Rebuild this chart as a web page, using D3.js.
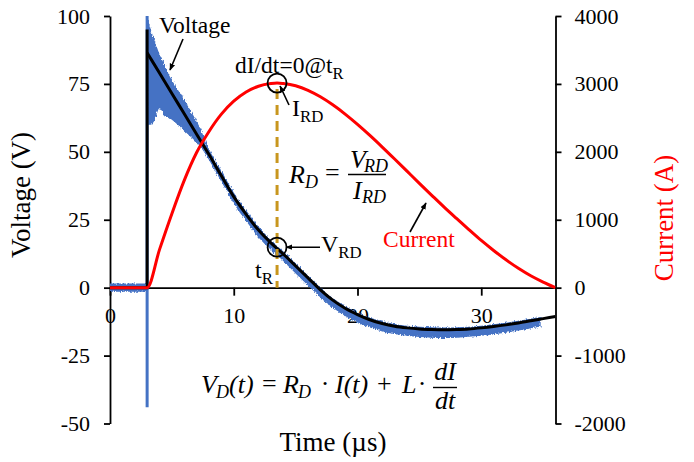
<!DOCTYPE html>
<html>
<head>
<meta charset="utf-8">
<script src="https://cdn.jsdelivr.net/npm/d3@7/dist/d3.min.js"></script>
<style>
  html, body { margin: 0; padding: 0; background: #fff; }
  svg { display: block; }
  text { font-family: "Liberation Serif", "Times New Roman", serif; fill: #000; }
  .math { font-style: italic; }
</style>
</head>
<body>
<svg id="chart" width="694" height="462"></svg>
<script>
// ---- Measured current (A) vs time (µs)
const currentTime = [0, 3, 4, 5, 6, 7, 8, 9, 10, 11, 12, 13, 13.5, 14, 15, 16, 17, 18, 19, 20,
  21, 22, 23, 24, 25, 26, 27, 28, 29, 30, 31, 32, 33, 34, 35, 36];
const currentAmps = [0, 0, 560, 1090, 1580, 1990, 2300, 2555, 2745, 2880, 2966, 3005, 3013, 3005, 2972, 2906, 2810, 2692, 2556, 2404,
  2241, 2070, 1894, 1715, 1536, 1360, 1186, 1019, 855, 695, 548, 410, 285, 175, 82, 0];

// ---- Fitted diode voltage (V): rising edge at 3 µs, then the decay curve
const edgeTime = [0, 3, 3, 3];
const edgeVoltage = [0, 0, 95, 86.5];
const fitTime = [3, 4, 5, 6, 7, 8, 9, 10, 11, 12, 13, 14, 15, 16, 17, 18, 19, 20,
  21, 22, 23, 24, 25, 26, 27, 28, 29, 30, 31, 32, 33, 34, 35, 36];
const fitVoltage = [86.5, 79, 71.5, 64, 56.5, 49, 41.2, 33.5, 27, 21.2, 16.5, 12.4, 8, 3.6, -0.8, -4.6, -7.6, -9.9,
  -11.8, -13.2, -14.2, -14.8, -15.2, -15.4, -15.5, -15.4, -15.2, -14.8, -14.3, -13.7, -13.0, -12.2, -11.4, -10.6];

// ---- Measured voltage trace: upper / lower envelope of the noisy signal
const baseNoiseTime = [0, 2.95];
const baseNoiseUpper = [1.5, 1.5];
const baseNoiseLower = [-1.5, -1.5];
const spikeTime = 3.0;
const spikeHigh = 104;
const spikeLow = -44;
const traceTime = [3.0, 3.3, 3.6, 4.0, 4.4, 4.8, 5.6, 6.4, 7.2, 8, 9, 10, 11, 12, 13, 14, 15, 16, 17, 18, 19, 20,
  21, 22, 23, 24, 25, 26, 27, 28, 29, 30, 31, 32, 33, 34, 34.8];
const traceUpper = [100, 95, 91, 86, 82, 78, 72, 66, 59.5, 51, 43, 35, 28.5, 22.5, 17.5, 13.4, 9, 4.5, 0, -3.8, -6.8, -9.1,
  -11, -12.4, -13.4, -14, -14.4, -14.6, -14.7, -14.6, -14.4, -14, -13.5, -12.9, -12.2, -11.4, -10.8];
const traceLower = [60, 60, 61.5, 66, 63.5, 62.5, 59.5, 56, 52.5, 47, 39, 31, 24.5, 18.5, 14, 9.8, 5.2, 0.8, -3.6, -7.4, -10.4, -12.8,
  -14.7, -16.1, -17.1, -17.7, -18.2, -18.4, -18.5, -18.4, -18.1, -17.7, -17.2, -16.6, -15.8, -15, -14.3];

// ---- Operating point where dI/dt = 0
const tR = 13.5;
const iRD = 3013;
const vRD = 14.9;

// ---- Axis ticks
const timeTicks = [0, 10, 20, 30];
const voltageTicks = [-50, -25, 0, 25, 50, 75, 100];
const currentTicks = [-2000, -1000, 0, 1000, 2000, 3000, 4000];

const svg = d3.select("#chart");
const plot = { left: 110, right: 555.5, top: 16, bottom: 423.5 };

const x = d3.scaleLinear().domain([0, 36]).range([plot.left, plot.right]);
const yV = d3.scaleLinear().domain([-50, 100]).range([plot.bottom, plot.top]);
const yI = d3.scaleLinear().domain([-2000, 4000]).range([plot.bottom, plot.top]);

const defs = svg.append("defs");
defs.append("clipPath").attr("id", "plotClip").append("rect")
  .attr("x", plot.left).attr("y", plot.top)
  .attr("width", plot.right - plot.left).attr("height", plot.bottom - plot.top);
// rough edge for the noisy trace
const rough = defs.append("filter").attr("id", "rough")
  .attr("x", "-5%").attr("y", "-5%").attr("width", "110%").attr("height", "110%");
rough.append("feTurbulence").attr("type", "fractalNoise").attr("baseFrequency", "0.9 0.35")
  .attr("numOctaves", 2).attr("seed", 3).attr("result", "n");
rough.append("feDisplacementMap").attr("in", "SourceGraphic").attr("in2", "n")
  .attr("scale", 4).attr("xChannelSelector", "R").attr("yChannelSelector", "G");
defs.append("marker").attr("id", "arrow").attr("viewBox", "0 0 10 10")
  .attr("refX", 9).attr("refY", 5).attr("markerWidth", 7).attr("markerHeight", 7)
  .attr("markerUnits", "userSpaceOnUse").attr("orient", "auto")
  .append("path").attr("d", "M0,1 L10,5 L0,9 z").attr("fill", "#000");

// ---- Axes (drawn first so the traces sit on top)
const serif = '"Liberation Serif", "Times New Roman", serif';
const axisStyle = g => {
  g.attr("font-family", null).attr("font-size", null);
  g.selectAll("path.domain").attr("stroke", "#000").attr("stroke-width", 1.8);
  g.selectAll(".tick line").attr("stroke", "#000").attr("stroke-width", 1.8);
  g.selectAll(".tick text").style("font-family", serif).style("font-size", "22px").style("fill", "#000");
};
const fmt = d => String(d);
svg.append("g").attr("transform", `translate(${plot.left},0)`)
  .call(d3.axisLeft(yV).tickValues(voltageTicks).tickFormat(fmt).tickSize(6).tickPadding(14).tickSizeOuter(0))
  .call(axisStyle);
svg.append("g").attr("transform", `translate(${plot.right},0)`)
  .call(d3.axisRight(yI).tickValues(currentTicks).tickFormat(fmt).tickSize(6).tickPadding(13).tickSizeOuter(0))
  .call(axisStyle);
svg.append("g").attr("transform", `translate(0,${yV(0)})`)
  .call(d3.axisBottom(x).tickValues(timeTicks).tickFormat(fmt).tickSize(8).tickPadding(12).tickSizeOuter(0))
  .call(axisStyle);

// axis titles
svg.append("text").attr("transform", "translate(30,195) rotate(-90)")
  .attr("text-anchor", "middle").style("font-size", "27px").text("Voltage (V)");
svg.append("text").attr("transform", "translate(673,218) rotate(-90)")
  .attr("text-anchor", "middle").style("font-size", "27px").style("fill", "#FF0000").text("Current (A)");
svg.append("text").attr("x", 333).attr("y", 451).attr("text-anchor", "middle")
  .style("font-size", "27px").text("Time (\u00B5s)");

// ---- Traces
const traceColor = "#4472C4";
const plotG = svg.append("g").attr("clip-path", "url(#plotClip)");

// measured voltage
const band = d3.area().x(d => x(d.t)).y0(d => yV(d.lo)).y1(d => yV(d.hi));
const preData = baseNoiseTime.map((t, i) => ({ t, hi: baseNoiseUpper[i], lo: baseNoiseLower[i] }));
const traceData = traceTime.map((t, i) => ({ t, hi: traceUpper[i], lo: traceLower[i] }));
const noisyG = plotG.append("g").attr("filter", "url(#rough)");
noisyG.append("path").attr("d", band.curve(d3.curveLinear)(preData)).attr("fill", traceColor);
noisyG.append("path").attr("d", band.curve(d3.curveMonotoneX)(traceData)).attr("fill", traceColor);
plotG.append("line")
  .attr("x1", x(spikeTime)).attr("x2", x(spikeTime))
  .attr("y1", yV(spikeLow)).attr("y2", yV(spikeHigh))
  .attr("stroke", traceColor).attr("stroke-width", 3);

// fitted voltage
const edgeLine = d3.line().x(d => x(d[0])).y(d => yV(d[1])).curve(d3.curveLinear);
plotG.append("path").attr("d", edgeLine(edgeTime.map((t, i) => [t, edgeVoltage[i]])))
  .attr("fill", "none").attr("stroke", "#000").attr("stroke-width", 3);
const fitLine = d3.line().x(d => x(d[0])).y(d => yV(d[1])).curve(d3.curveMonotoneX);
plotG.append("path").attr("d", fitLine(fitTime.map((t, i) => [t, fitVoltage[i]])))
  .attr("fill", "none").attr("stroke", "#000").attr("stroke-width", 3);

// current
const curLine = d3.line().x(d => x(d[0])).y(d => yI(d[1])).curve(d3.curveMonotoneX);
plotG.append("path").attr("d", curLine(currentTime.map((t, i) => [t, currentAmps[i]])))
  .attr("fill", "none").attr("stroke", "#FF0000").attr("stroke-width", 3);

// ---- Operating point markers
const px = x(tR), pyI = yI(iRD), pyV = yV(vRD);
svg.append("line").attr("x1", px).attr("x2", px).attr("y1", pyI + 6).attr("y2", yV(0))
  .attr("stroke", "#C8961E").attr("stroke-width", 3).attr("stroke-dasharray", "10,6");
[pyI, pyV].forEach(cy => svg.append("circle").attr("cx", px).attr("cy", cy).attr("r", 9.5)
  .attr("fill", "none").attr("stroke", "#000").attr("stroke-width", 1.8));

// ---- Annotations
const arrow = (x1, y1, x2, y2) => svg.append("line")
  .attr("x1", x1).attr("y1", y1).attr("x2", x2).attr("y2", y2)
  .attr("stroke", "#000").attr("stroke-width", 1.6).attr("marker-end", "url(#arrow)");

const label = (xx, yy, str, size, color) => svg.append("text").attr("x", xx).attr("y", yy)
  .style("font-size", size + "px").style("fill", color || "#000").text(str);
const subText = (xx, yy, main, sub, size) => {
  const t = svg.append("text").attr("x", xx).attr("y", yy).style("font-size", size + "px");
  t.append("tspan").text(main);
  t.append("tspan").style("font-size", (size * 0.7) + "px").attr("dy", size * 0.25).text(sub);
  return t;
};

label(159, 33, "Voltage", 23.5);
arrow(183, 39, 170, 70);
subText(235, 73, "dI/dt=0@t", "R", 23.5);
subText(292, 116, "I", "RD", 24);
arrow(289, 105, px + 3, pyI + 3);
subText(321, 252, "V", "RD", 24);
arrow(320, pyV, px + 9, pyV);
subText(255, 278, "t", "R", 24);
label(383, 247, "Current", 23.5, "#FF0000");
arrow(410, 232, 426, 203);

// math pieces placed along a baseline
const math = (xx, yy, str, size, opts = {}) => svg.append("text").attr("x", xx).attr("y", yy)
  .attr("text-anchor", opts.anchor || "start")
  .style("font-size", size + "px").style("font-style", opts.upright ? "normal" : "italic").text(str);
const fracBar = (x1, x2, yy) => svg.append("line").attr("x1", x1).attr("x2", x2).attr("y1", yy).attr("y2", yy)
  .attr("stroke", "#000").attr("stroke-width", 1.4);

// R_D = V_RD / I_RD
math(289, 183, "R", 26);
math(305, 188, "D", 18);
math(325, 181, "=", 26, { upright: true });
fracBar(348, 386, 174.5);
math(350, 168, "V", 26);
math(364, 172, "RD", 18);
math(353, 199, "I", 26);
math(362, 203, "RD", 18);

// V_D(t) = R_D · I(t) + L · dI/dt
const eqY = 393;
math(201, eqY, "V", 26);
math(216, eqY + 5, "D", 18);
math(229, eqY, "(t)", 26);
math(262, eqY - 1, "=", 26, { upright: true });
math(283, eqY, "R", 26);
math(298, eqY + 5, "D", 18);
math(325, eqY - 1, "\u00B7", 26, { anchor: "middle", upright: true });
math(335, eqY, "I(t)", 26);
math(377, eqY - 1, "+", 26, { upright: true });
math(402, eqY, "L", 26);
math(422, eqY - 1, "\u00B7", 26, { anchor: "middle", upright: true });
fracBar(433, 457, 387.5);
math(445, 380, "dI", 26, { anchor: "middle" });
math(445, 409, "dt", 26, { anchor: "middle" });
</script>
</body>
</html>
